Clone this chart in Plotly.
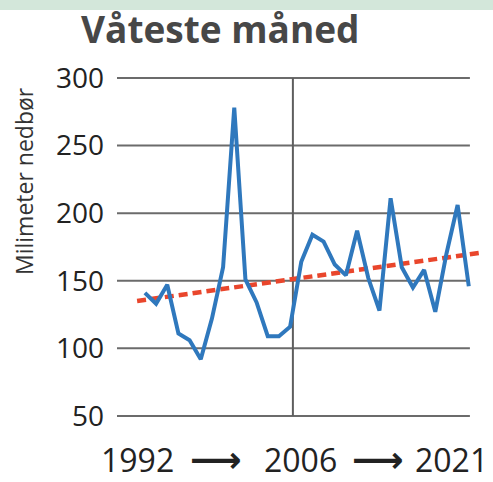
import plotly.graph_objects as go

years = list(range(1992, 2022))
values = [141, 133, 147, 111, 106, 92, 122, 160, 278, 151, 134, 109, 109, 116, 164,
          184, 179, 162, 154, 187, 152, 128, 211, 160, 145, 158, 127, 170, 206, 146]
trend_years = [1991.3, 2022.3]
trend_values = [135, 171]
y_ticks = [50, 100, 150, 200, 250, 300]
divider_year = 2005.25
x_labels = ["1992", "2006", "2021"]
title_text = "Våteste måned"
y_title = "Milimeter nedbør"

FONT = "Open Sans"
X0, X1 = 1989.5, 2022.9
GRID_END = 2021.1

fig = go.Figure()

shapes = []
# top green band
shapes.append(dict(type="rect", xref="paper", yref="paper", x0=-0.5, x1=1.5,
                   y0=1.0 + 50/370, y1=2, fillcolor="#d3e7da", line_width=0, layer="below"))
for v in y_ticks:
    shapes.append(dict(type="line", xref="x", yref="y", x0=X0 - 0.2, x1=GRID_END,
                       y0=v, y1=v, line=dict(color="#6b6b6b", width=2), layer="below"))
shapes.append(dict(type="line", xref="x", yref="y", x0=divider_year, x1=divider_year,
                   y0=y_ticks[0], y1=y_ticks[-1], line=dict(color="#5e5e5e", width=2),
                   layer="below"))

fig.add_trace(go.Scatter(x=trend_years, y=trend_values, mode="lines",
                         line=dict(color="#e9462c", width=4.5, dash="9px,5px"),
                         hoverinfo="skip", showlegend=False))
fig.add_trace(go.Scatter(x=years, y=values, mode="lines",
                         line=dict(color="#2f78bd", width=4),
                         showlegend=False))

annotations = [
    dict(text=title_text, xref="paper", yref="paper", x=(220 - 117) / 373, y=1 + (60 - 29) / 370,
         xanchor="center", yanchor="middle", showarrow=False,
         font=dict(family=FONT, size=37, color="#474747", weight="bold")),
    dict(text=y_title, textangle=-90, xref="paper", yref="paper",
         x=(24 - 117) / 373, y=(430 - 181) / 370, xanchor="center", yanchor="middle",
         showarrow=False, font=dict(family=FONT, size=23, color="#333333")),
]
label_px = [137, 300, 451]
for lbl, px in zip(x_labels, label_px):
    annotations.append(dict(text=lbl, xref="paper", yref="paper", x=(px - 117) / 373,
                            y=(430 - 459.5) / 370, xanchor="center", yanchor="middle",
                            borderpad=0,
                            showarrow=False, font=dict(family=FONT, size=32, color="#222222")))
for px in [216, 378]:
    annotations.append(dict(text="⟶", xref="paper", yref="paper", x=(px - 117) / 373,
                            y=(430 - 459.5) / 370, xanchor="center", yanchor="middle",
                            borderpad=0,
                            showarrow=False,
                            font=dict(family="DejaVu Sans", size=36, color="#222222", weight="bold")))

fig.update_layout(
    width=493, height=482,
    margin=dict(l=117, r=3, t=60, b=52),
    paper_bgcolor="white", plot_bgcolor="white",
    shapes=shapes, annotations=annotations,
    xaxis=dict(range=[X0, X1], showgrid=False, zeroline=False, showticklabels=False,
               showline=False, ticks=""),
    yaxis=dict(range=[39.6, 313.3], showgrid=False, zeroline=False, tickvals=y_ticks,
               ticks="", showline=False, ticklabelstandoff=12,
               tickfont=dict(family=FONT, size=28, color="#222222")),
)

fig.write_html("out.html", config={"displayModeBar": False},
               post_script="document.body.style.margin='0';")
